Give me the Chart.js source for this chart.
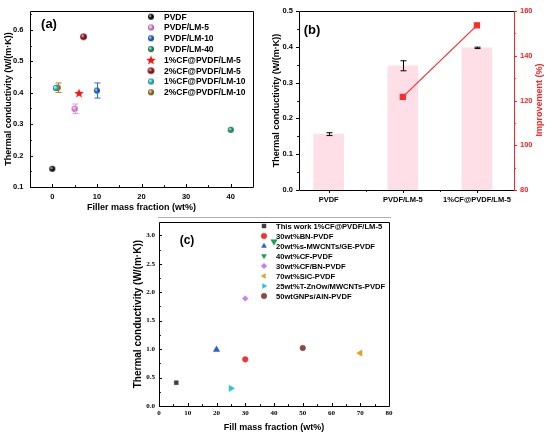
<!DOCTYPE html>
<html>
<head>
<meta charset="utf-8">
<script src="https://cdn.jsdelivr.net/npm/chart.js@4.4.0/dist/chart.umd.min.js"></script>
<style>
  body { margin: 0; background: #fff; }
  #wrap { position: relative; width: 550px; height: 439px; overflow: hidden; background: #fff; }
  canvas { position: absolute; }
  #chartA { left: 0; top: 0; width: 268px; height: 216px; }
  #chartB { left: 268px; top: 0; width: 282px; height: 215px; }
  #chartC { left: 126px; top: 214px; width: 274px; height: 225px; }
  #cut { position: absolute; left: 158px; top: 217px; width: 233px; height: 0; border-top: 1px solid #b0b0b0; }
</style>
</head>
<body>
<div id="wrap">
  <canvas id="chartA" width="268" height="216"></canvas>
  <canvas id="chartB" width="282" height="215"></canvas>
  <div id="cut"></div>
  <canvas id="chartC" width="274" height="225"></canvas>
</div>
<script>
// ---- panel (a) data
const seriesA = ['PVDF', 'PVDF/LM-5', 'PVDF/LM-10', 'PVDF/LM-40',
  '1%CF@PVDF/LM-5', '2%CF@PVDF/LM-5', '1%CF@PVDF/LM-10', '2%CF@PVDF/LM-10'];
const fillerA = [0, 5, 10, 40, 6, 7, 0.8, 1.2];
const condA = [0.158, 0.349, 0.407, 0.282, 0.399, 0.578, 0.415, 0.416];
const errA = [0, 0.015, 0.024, 0, 0, 0, 0, 0.015];
const colorA = ['#151515', '#f28ef0', '#1f6fd6', '#1ea66c', '#ff1010', '#a3121c', '#22cfd2', '#a87c1c'];
const ticksAx = [0, 10, 20, 30, 40];
const ticksAy = [0.1, 0.2, 0.3, 0.4, 0.5, 0.6];

// ---- panel (b) data
const catsB = ['PVDF', 'PVDF/LM-5', '1%CF@PVDF/LM-5'];
const condB = [0.156, 0.347, 0.397];
const errB = [0.004, 0.014, 0.002];
const improveB = [null, 121.6, 153.6];

// ---- panel (c) data
const seriesC = ['This work 1%CF@PVDF/LM-5', '30wt%BN-PVDF', '20wt%s-MWCNTs/GE-PVDF', '40wt%CF-PVDF',
  '30wt%CF/BN-PVDF', '70wt%SiC-PVDF', '25wt%T-ZnOw/MWCNTs-PVDF', '50wtGNPs/AlN-PVDF'];
const fillC = [6, 30, 20, 40, 30, 70, 25, 50];
const condC = [0.41, 0.82, 0.99, 2.89, 1.89, 0.93, 0.31, 1.02];
const colorC = ['#404040', '#f23333', '#1f5fd8', '#17a04e', '#c47ff0', '#e3a020', '#22c6d6', '#8a4848'];
const styleC = ['rect', 'circle', 'triangle', 'triangle', 'rectRot', 'triangle', 'triangle', 'circle'];
const rotC = [0, 0, 0, 180, 0, 270, 90, 0];
const ticksCx = [0, 10, 20, 30, 40, 50, 60, 70, 80];
const ticksCy = [0, 0.5, 1, 1.5, 2, 2.5, 3];

const helpers = Chart.helpers;
const sans = "Arial, 'Liberation Sans', sans-serif";
const serif = "'Times New Roman', 'Liberation Serif', serif";

function shade(hex, f) {
  const n = parseInt(hex.slice(1), 16);
  const t = f < 0 ? 0 : 255, p = Math.abs(f);
  const mix = c => Math.round(c + (t - c) * p);
  return 'rgb(' + mix(n >> 16) + ',' + mix((n >> 8) & 255) + ',' + mix(n & 255) + ')';
}

// shaded ball marker, like the origin "sphere" symbol
function makeBall(color, r) {
  const c = document.createElement('canvas');
  const s = Math.ceil(r * 2 + 2);
  c.width = c.height = s;
  const g = c.getContext('2d');
  const m = s / 2;
  const grad = g.createRadialGradient(m - r * 0.35, m - r * 0.35, r * 0.1, m, m, r);
  grad.addColorStop(0, shade(color, 0.8));
  grad.addColorStop(0.45, color);
  grad.addColorStop(1, shade(color, -0.5));
  g.fillStyle = grad;
  g.beginPath();
  g.arc(m, m, r, 0, Math.PI * 2);
  g.fill();
  return c;
}

function makeStar(color, r) {
  const c = document.createElement('canvas');
  const s = Math.ceil(r * 2 + 2);
  c.width = c.height = s;
  const g = c.getContext('2d');
  const m = s / 2;
  g.fillStyle = color;
  g.beginPath();
  for (let k = 0; k < 10; k++) {
    const rr = k % 2 ? r * 0.42 : r;
    const a = -Math.PI / 2 + k * Math.PI / 5;
    g.lineTo(m + rr * Math.cos(a), m + rr * Math.sin(a) + 0.5);
  }
  g.closePath();
  g.fill();
  return c;
}

// box frame round the plot area
const frame = {
  id: 'frame',
  afterDraw(chart, args, o) {
    const {ctx, chartArea: a} = chart;
    ctx.save();
    ctx.lineWidth = 1;
    const line = (x1, y1, x2, y2, col) => {
      ctx.strokeStyle = col;
      ctx.beginPath(); ctx.moveTo(x1, y1); ctx.lineTo(x2, y2); ctx.stroke();
    };
    const L = Math.round(a.left) + 0.5, R = Math.round(a.right) + 0.5;
    const T = Math.round(a.top) + 0.5, B = Math.round(a.bottom) + 0.5;
    line(L, T, R, T, '#000');
    line(L, B, R, B, '#000');
    line(L, T, L, B, '#000');
    line(R, T, R, B, o.right || '#000');
    ctx.restore();
  }
};

// tick marks (dir 1 = into the plot, -1 = outwards), with minor ticks
const tickMarks = {
  id: 'tickMarks',
  afterDraw(chart, args, o) {
    if (!o.list) return;
    const {ctx, chartArea: a} = chart;
    ctx.save();
    ctx.lineWidth = 1;
    o.list.forEach(spec => {
      const s = chart.scales[spec.id];
      const vals = s.ticks.map(t => t.value);
      const marks = vals.map(v => [v, 3]);
      if (spec.minor) {
        const step = vals[1] - vals[0];
        for (let k = -1; k < vals.length; k++) {
          const v = vals[0] + (k + 0.5) * step;
          if (v > s.min && v < s.max) marks.push([v, 1.8]);
        }
      }
      ctx.strokeStyle = spec.color || '#000';
      marks.forEach(([v, len]) => {
        const p = Math.round(s.getPixelForValue(v)) + 0.5;
        const d = len * spec.dir;
        ctx.beginPath();
        if (spec.id.startsWith('x')) {
          ctx.moveTo(p, a.bottom); ctx.lineTo(p, a.bottom - d);
        } else if (s.position === 'right') {
          ctx.moveTo(a.right, p); ctx.lineTo(a.right - d, p);
        } else {
          ctx.moveTo(a.left, p); ctx.lineTo(a.left + d, p);
        }
        ctx.stroke();
      });
    });
    ctx.restore();
  }
};

const errorBars = {
  id: 'errorBars',
  afterDatasetsDraw(chart) {
    const ctx = chart.ctx;
    ctx.save();
    ctx.lineWidth = 1;
    chart.data.datasets.forEach((ds, i) => {
      if (!ds.errors) return;
      const meta = chart.getDatasetMeta(i);
      const ys = chart.scales[meta.yAxisID];
      meta.data.forEach((el, j) => {
        const e = ds.errors[j];
        if (!e) return;
        const v = ds.data[j].y;
        const x = Math.round(el.x) + 0.5;
        const y1 = ys.getPixelForValue(v + e), y2 = ys.getPixelForValue(v - e);
        ctx.strokeStyle = ds.errorColor || '#000';
        ctx.beginPath();
        ctx.moveTo(x, y1); ctx.lineTo(x, y2);
        ctx.moveTo(x - 3, y1); ctx.lineTo(x + 3, y1);
        ctx.moveTo(x - 3, y2); ctx.lineTo(x + 3, y2);
        ctx.stroke();
      });
    });
    ctx.restore();
  }
};

// legend drawn inside the plot, one row per dataset
const innerLegend = {
  id: 'innerLegend',
  afterDraw(chart, args, o) {
    if (o.x === undefined) return;
    const ctx = chart.ctx;
    ctx.save();
    ctx.font = o.font;
    ctx.textBaseline = 'middle';
    chart.data.datasets.forEach((ds, i) => {
      const y = o.y + i * o.dy;
      ctx.fillStyle = ds.backgroundColor;
      ctx.strokeStyle = ds.borderColor || ds.backgroundColor;
      ctx.lineWidth = ds.borderWidth || 0;
      helpers.drawPoint(ctx, {
        pointStyle: ds.pointStyle, radius: o.radius || ds.pointRadius,
        rotation: ds.rotation || 0, borderWidth: ds.borderWidth || 0
      }, o.x, y);
      ctx.fillStyle = '#000';
      ctx.fillText(ds.label, o.textX, y + 0.5);
    });
    ctx.restore();
  }
};

const notes = {
  id: 'notes',
  afterDraw(chart, args, o) {
    if (!o.items) return;
    const ctx = chart.ctx;
    o.items.forEach(it => {
      ctx.save();
      ctx.font = it.font;
      ctx.fillStyle = it.color || '#000';
      ctx.textAlign = 'center';
      ctx.textBaseline = 'middle';
      ctx.translate(it.x, it.y);
      if (it.rot) ctx.rotate(it.rot * Math.PI / 180);
      ctx.fillText(it.text, 0, 0);
      ctx.restore();
    });
  }
};

Chart.register(frame, tickMarks, errorBars, innerLegend, notes);
Chart.defaults.font.family = sans;
Chart.defaults.color = '#000';

const common = {
  responsive: false,
  animation: false,
  events: [],
  plugins: { legend: { display: false }, tooltip: { enabled: false } }
};
const noGrid = { display: false, drawTicks: false, offset: false };

// chart (a)
const ctxA = document.getElementById('chartA');
new Chart(ctxA, {
  type: 'scatter',
  data: {
    datasets: seriesA.map((name, i) => ({
      label: name,
      data: [{ x: fillerA[i], y: condA[i] }],
      errors: [errA[i]],
      errorColor: colorA[i],
      backgroundColor: colorA[i],
      borderColor: colorA[i],
      borderWidth: 0,
      pointStyle: i === 4 ? makeStar(colorA[i], 5) : makeBall(colorA[i], i === 5 ? 3.3 : 3),
      pointRadius: 3
    }))
  },
  options: {
    ...common,
    layout: { padding: { top: 3, right: 15, left: 0, bottom: 0 } },
    scales: {
      x: {
        type: 'linear', min: -5, max: 45,
        afterBuildTicks: s => { s.ticks = ticksAx.map(v => ({ value: v })); },
        afterFit: s => { s.height = 29; },
        grid: noGrid, border: { display: false },
        ticks: { padding: 5, font: { size: 7.5, weight: 'bold' } },
        title: { display: true, text: 'Filler mass fraction (wt%)', font: { size: 9, weight: 'bold' }, padding: { top: 0, bottom: 2.6 } }
      },
      y: {
        min: 0.1, max: 0.66,
        afterBuildTicks: s => { s.ticks = ticksAy.map(v => ({ value: v })); },
        afterFit: s => { s.width = 30; },
        grid: noGrid, border: { display: false },
        ticks: { padding: 6.5, font: { size: 7.5, weight: 'bold' }, callback: v => v.toFixed(1) },
        title: { display: true, text: 'Thermal conductivity (W/(m·K))', font: { size: 9, weight: 'bold' }, padding: { top: 3.6, bottom: 0 } }
      }
    },
    plugins: {
      ...common.plugins,
      tickMarks: { list: [{ id: 'x', dir: 1, minor: true }, { id: 'y', dir: 1, minor: true }] },
      innerLegend: { x: 151, textX: 164, y: 16.7, dy: 10.8, font: 'bold 8.5px ' + sans },
      notes: { items: [{ text: '(a)', x: 49, y: 24, font: 'bold 13px ' + sans }] }
    }
  }
});

// chart (b)
const ctxB = document.getElementById('chartB');
new Chart(ctxB, {
  data: {
    datasets: [{
      type: 'line',
      label: 'Improvement',
      data: catsB.map((c, i) => ({ x: i, y: improveB[i] })).filter(p => p.y !== null),
      yAxisID: 'y1',
      borderColor: '#ff2a2a',
      backgroundColor: '#ff2a2a',
      borderWidth: 1.2,
      pointStyle: 'rect',
      pointRadius: 3.6,
      order: 0
    }, {
      type: 'bar',
      label: 'Thermal conductivity',
      data: catsB.map((c, i) => ({ x: i, y: condB[i] })),
      errors: errB,
      yAxisID: 'y',
      backgroundColor: '#ffdfe7',
      barThickness: 30,
      order: 1
    }]
  },
  options: {
    ...common,
    layout: { padding: { top: 11, right: 0, left: 0, bottom: 0 } },
    scales: {
      x: {
        type: 'linear', min: -0.4, max: 2.5, offset: false,
        afterBuildTicks: s => { s.ticks = catsB.map((c, i) => ({ value: i })); },
        afterFit: s => { s.height = 25; },
        grid: noGrid, border: { display: false },
        ticks: { padding: 5, autoSkip: false, maxRotation: 0, font: { size: 7.5, weight: 'bold' }, callback: v => catsB[v] ?? '' }
      },
      y: {
        position: 'left', min: 0, max: 0.5,
        afterBuildTicks: s => { s.ticks = [0, 0.1, 0.2, 0.3, 0.4, 0.5].map(v => ({ value: v })); },
        afterFit: s => { s.width = 31; },
        grid: noGrid, border: { display: false },
        ticks: { padding: 6, font: { size: 7.5, weight: 'bold' }, callback: v => v.toFixed(1) },
        title: { display: true, text: 'Thermal conductivity (W/(m·K))', font: { size: 9, weight: 'bold' }, padding: { top: 3.6, bottom: 0 } }
      },
      y1: {
        position: 'right', min: 80, max: 160,
        afterBuildTicks: s => { s.ticks = [80, 100, 120, 140, 160].map(v => ({ value: v })); },
        afterFit: s => { s.width = 36; },
        grid: noGrid, border: { display: false },
        ticks: { padding: 6, color: '#ff2020', font: { size: 7.5, weight: 'bold' } }
      }
    },
    plugins: {
      ...common.plugins,
      frame: { right: '#ff2020' },
      tickMarks: { list: [{ id: 'x', dir: -1, minor: true }, { id: 'y', dir: -1, minor: true }, { id: 'y1', dir: -1, minor: true, color: '#ff2020' }] },
      notes: { items: [
        { text: '(b)', x: 44, y: 30, font: 'bold 13px ' + sans },
        { text: 'Improvement (%)', x: 272, y: 100, rot: -90, color: '#ff2020', font: 'bold 9px ' + sans }
      ] }
    }
  }
});

// chart (c)
const ctxC = document.getElementById('chartC');
new Chart(ctxC, {
  type: 'scatter',
  data: {
    datasets: seriesC.map((name, i) => ({
      label: name,
      data: [{ x: fillC[i], y: condC[i] }],
      backgroundColor: colorC[i],
      borderColor: colorC[i],
      borderWidth: 0.5,
      pointStyle: styleC[i],
      rotation: rotC[i],
      pointRadius: styleC[i] === 'triangle' ? 3.6 : 2.8
    }))
  },
  options: {
    ...common,
    layout: { padding: { top: 7, right: 11, left: 0, bottom: 0 } },
    scales: {
      x: {
        type: 'linear', min: 0, max: 80,
        afterBuildTicks: s => { s.ticks = ticksCx.map(v => ({ value: v })); },
        afterFit: s => { s.height = 33; },
        grid: noGrid, border: { display: false },
        ticks: { padding: 3, font: { family: serif, size: 7, weight: 'bold' } },
        title: { display: true, text: 'Fill mass fraction (wt%)', font: { size: 9, weight: 'bold' }, padding: { top: 0, bottom: 5.6 } }
      },
      y: {
        min: 0, max: 3.23,
        afterBuildTicks: s => { s.ticks = ticksCy.map(v => ({ value: v })); },
        afterFit: s => { s.width = 33; },
        grid: noGrid, border: { display: false },
        ticks: { padding: 4, font: { family: serif, size: 7, weight: 'bold' }, callback: v => v.toFixed(1) },
        title: { display: true, text: 'Thermal conductivity (W/(m·K))', font: { size: 10, weight: 'bold' }, padding: { top: 6, bottom: 0 } }
      }
    },
    plugins: {
      ...common.plugins,
      tickMarks: { list: [{ id: 'x', dir: 1, minor: true }, { id: 'y', dir: 1, minor: true }] },
      innerLegend: { x: 138, textX: 150, y: 12, dy: 10, radius: 2.8, font: 'bold 7.6px ' + sans },
      notes: { items: [{ text: '(c)', x: 61, y: 27, font: 'bold 12px ' + sans }] }
    }
  }
});
</script>
</body>
</html>
